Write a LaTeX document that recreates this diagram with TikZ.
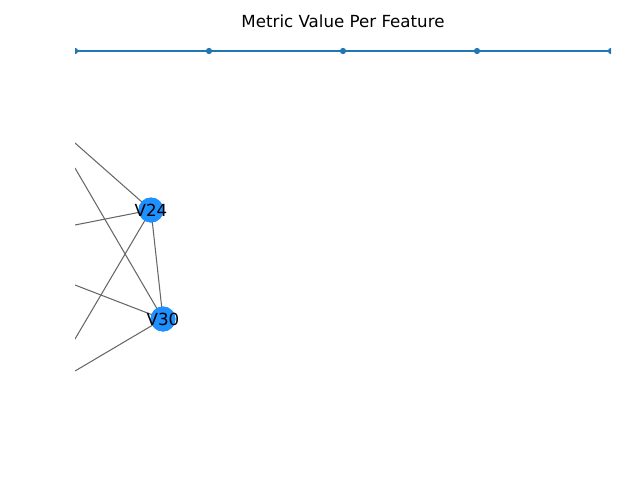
\documentclass[tikz,border=0pt]{standalone}
\usepackage{fontspec}
\setmainfont{DejaVu Sans}
\usetikzlibrary{positioning}
\definecolor{mplblue}{HTML}{1F77B4}
\definecolor{nodeblue}{HTML}{1E90FF}
\definecolor{edgegray}{HTML}{666666}
\tikzset{
  feat/.style={circle, fill=nodeblue, minimum size=18pt, inner sep=0pt},
  edge/.style={draw=edgegray, line width=0.75pt},
  tick/.style={fill=mplblue, circle, minimum size=4.5pt, inner sep=0pt}
}
\begin{document}
\begin{tikzpicture}[x=0.72pt, y=-0.72pt, font=\fontsize{12}{14}\selectfont]
  \useasboundingbox (0,0) rectangle (640,480);
  \node (title) at (343,21) {Metric Value Per Feature};      % title
  \begin{scope}
    \clip (75,0) rectangle (611,480);
    \foreach \i/\x in {a/75, b/209, c/343, d/477, e/611}
      \node [tick] (t\i) at (\x,51) {};                        % marks
    \draw [mplblue, line width=1.5pt] (ta.center) -- (te.center); % the axis line
    \node [feat] (v24) at (151,210) {};
    \node [feat] (v30) at (163,319) {};
    \coordinate (l1) at (75,143);
    \coordinate (l2) at (75,168);
    \coordinate (l3) at (75,225);
    \coordinate (l4) at (75,285);
    \coordinate (l5) at (75,339);
    \coordinate (l6) at (75,371);
    \draw [edge] (l1) -- (v24.center);                         % draw the edges
    \draw [edge] (l3) -- (v24.center);
    \draw [edge] (l5) -- (v24.center);
    \draw [edge] (l2) -- (v30.center);
    \draw [edge] (l4) -- (v30.center);
    \draw [edge] (l6) -- (v30.center);
    \draw [edge] (v24.center) -- (v30.center);
    \node [feat] at (v24) {};                                  % redraw on top
    \node [feat] at (v30) {};
  \end{scope}
  \node at (v24) {V24};                                        % label nodes
  \node at (v30) {V30};
\end{tikzpicture}
\end{document}
